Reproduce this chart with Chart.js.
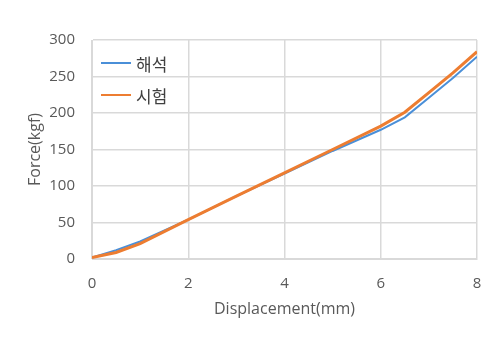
<!DOCTYPE html>
<html>
<head>
<meta charset="utf-8">
<script src="https://cdn.jsdelivr.net/npm/chart.js@4/dist/chart.umd.min.js"></script>
<style>
  body { margin: 0; background: #fff; }
  #wrap { position: relative; width: 500px; height: 350px; }
  #legend { position: absolute; left: 101px; top: 47px; font-family: "Noto Sans CJK KR", sans-serif; font-size: 17px; color: #404040; }
  #legend div { display: flex; align-items: center; height: 32px; }
  #legend span.sw { display: inline-block; width: 30px; height: 2px; margin-right: 5px; }
</style>
</head>
<body>
<div id="wrap">
  <canvas id="chart" width="500" height="350"></canvas>
  <div id="legend"></div>
</div>
<script>
// Displacement (mm) vs Force (kgf)
const seriesNames = ['해석', '시험'];
const analysisX = [0, 0.5, 1, 2, 3, 4, 5, 6, 6.5, 7, 7.5, 8];
const analysisY = [2, 12, 24, 54, 86, 117, 148, 177, 194, 221, 248, 277];
const testX = [0, 0.5, 1, 2, 3, 4, 5, 6, 6.5, 7, 7.5, 8];
const testY = [2, 9, 21, 54, 86, 118, 150, 182, 201, 228, 255, 284];
const xTicks = [0, 2, 4, 6, 8];

const colors = ['#4a8fd8', '#ed7d31'];
const widths = [2, 3];
const font = 'Open Sans';

const toPoints = (xs, ys) => xs.map((x, i) => ({ x: x, y: ys[i] }));

const ctx = document.getElementById('chart').getContext('2d');
new Chart(ctx, {
    type: 'scatter',
    data: {
        datasets: [
            { label: seriesNames[0], data: toPoints(analysisX, analysisY), borderColor: colors[0], borderWidth: widths[0], showLine: true, pointRadius: 0, order: 2 },
            { label: seriesNames[1], data: toPoints(testX, testY), borderColor: colors[1], borderWidth: widths[1], showLine: true, pointRadius: 0, order: 1 }
        ]
    },
    options: {
        responsive: false,
        animation: false,
        layout: { padding: { left: 26, right: 23, top: 40, bottom: 31 } },
        plugins: { legend: { display: false }, tooltip: { enabled: false } },
        scales: {
            x: {
                type: 'linear', min: 0, max: 8,
                afterBuildTicks: axis => { axis.ticks = xTicks.map(v => ({ value: v })); },
                afterFit: axis => { axis.height = 60; },
                grid: { color: '#d9d9d9', lineWidth: 1.5, drawTicks: false },
                border: { color: '#d9d9d9' },
                ticks: { color: '#595959', font: { family: font, size: 15 }, padding: 16 },
                title: { display: true, text: 'Displacement(mm)', color: '#595959', font: { family: font, size: 16 }, padding: 0 }
            },
            y: {
                min: 0, max: 300,
                afterFit: axis => { axis.width = 66; },
                ticks: { stepSize: 50, color: '#595959', font: { family: font, size: 15 }, padding: 17 },
                grid: { color: '#d9d9d9', lineWidth: 1.5, drawTicks: false },
                border: { color: '#d9d9d9' },
                title: { display: true, text: 'Force(kgf)', color: '#595959', font: { family: font, size: 16 }, padding: 0 }
            }
        }
    }
});

// legend inside the plot area
const legend = document.getElementById('legend');
seriesNames.forEach((name, i) => {
    const row = document.createElement('div');
    row.innerHTML = '<span class="sw" style="background:' + colors[i] + '"></span>' + name;
    legend.appendChild(row);
});
</script>
</body>
</html>
